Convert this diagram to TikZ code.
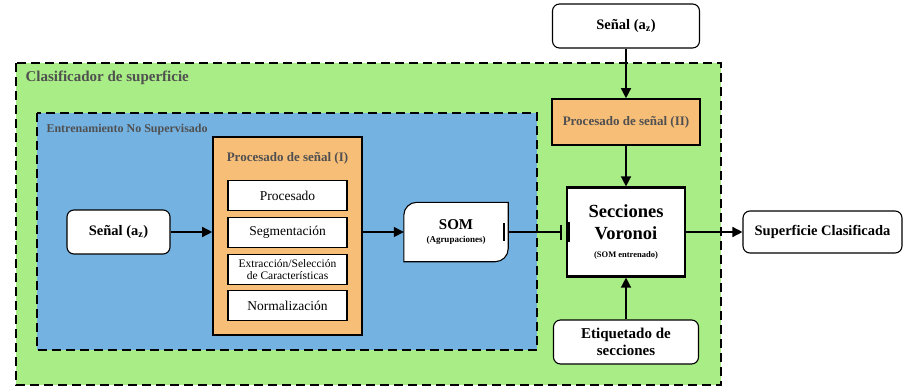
\documentclass[tikz,border=0pt]{standalone}
\usepackage{fontspec}
\setmainfont{Liberation Serif}
\usetikzlibrary{arrows.meta, positioning, calc}
\definecolor{outergreen}{RGB}{168,237,133}
\definecolor{innerblue}{RGB}{116,178,226}
\definecolor{procorange}{RGB}{247,190,120}
\definecolor{titlegray}{RGB}{80,80,80}

\begin{document}
\begin{tikzpicture}[x=1pt, y=-1pt,
  zone/.style={line width=1.6pt, dash pattern=on 9pt off 5pt},
  capbox/.style={draw, fill=white, rounded corners=7pt, line width=1.1pt,
                 font=\fontsize{14.5}{16}\selectfont\bfseries},
  stagebox/.style={draw, fill=white, line width=1.8pt,
                   minimum width=119pt, minimum height=30pt},
  procbox/.style={draw, fill=procorange, line width=1.6pt},
  flow/.style={line width=1.5pt, -{Triangle[length=10pt, width=10pt]}},
  zonetitle/.style={anchor=west, text=titlegray}
]
\useasboundingbox (0,0) rectangle (905,388);
% Zones
\filldraw[fill=outergreen, zone] (16,63) rectangle (721,385);
\node[zonetitle, font=\fontsize{15}{17}\selectfont\bfseries] (clasif) at (22,78) {Clasificador de superficie};
\filldraw[fill=innerblue, zone] (37,113) rectangle (537,350);
\node[zonetitle, font=\fontsize{12}{14}\selectfont\bfseries] (entren) at (43,130) {Entrenamiento No Supervisado};
% Signal input (training)
\node[capbox, minimum width=103pt, minimum height=44pt] (senalL) at (118.5,232) {Señal (a\textsubscript{z})};
% Procesado de senal (I)
\node[procbox, minimum width=149pt, minimum height=198pt] (proc1) at (287.5,236) {};
\node[text=titlegray, font=\fontsize{13}{15}\selectfont\bfseries] (proc1t) at (287.5,158) {Procesado de señal (I)};
\foreach \y/\nm/\txt in {195.5/pa/Procesado, 232.5/pb/Segmentación, 305.5/pd/Normalización} {
  \node[stagebox, font=\fontsize{13.5}{15}\selectfont] (\nm) at (287.5,\y) {\txt};
}
\node[stagebox, align=center, inner sep=1pt, font=\fontsize{11.5}{12}\selectfont] (pc) at (287.5,269.5) {Extracción/Selección\\de Características};
% SOM
\node[minimum width=104pt, minimum height=59pt] (som) at (456,232) {};
\filldraw[fill=white, line width=1.1pt] (som.south west) -- ([yshift=-13pt]som.north west)
  arc[start angle=180, end angle=90, radius=13pt] -- (som.north east)
  -- ([yshift=13pt]som.south east) arc[start angle=0, end angle=-90, radius=13pt] -- cycle;
\node[align=center, font=\bfseries] (somt) at (som) {\fontsize{15}{14}\selectfont SOM\\[1pt]\fontsize{9}{9}\selectfont (Agrupaciones)};
\draw[flow] (senalL.east) -- (senalL.east -| proc1.west);
\draw[flow] (proc1.east |- som.west) -- (som.west);
% Voronoi
\node[draw, fill=white, line width=2.2pt, minimum width=118pt, minimum height=89pt, align=center,
      font=\fontsize{18.5}{22}\selectfont\bfseries] (vor) at (626,232)
  {Secciones\\Voronoi\\[-4pt]\fontsize{8.5}{10}\selectfont (SOM entrenado)};
% SOM -> Voronoi
\draw[line width=1.3pt, -{Bar[width=15pt, line width=1.6pt]}] (som.east) -- ([xshift=-4pt]vor.west);
\draw[line width=2pt] ([xshift=-4pt, yshift=9pt]som.east) -- ([xshift=-4pt, yshift=-9pt]som.east);
\draw[line width=2pt] ([xshift=3pt, yshift=10pt]vor.west) -- ([xshift=3pt, yshift=-10pt]vor.west);
% Classifier path
\node[capbox, minimum width=147pt, minimum height=44pt] (senalT) at (626,26) {Señal (a\textsubscript{z})};
\node[procbox, minimum width=148pt, minimum height=46pt, text=titlegray, font=\fontsize{13}{15}\selectfont\bfseries] (proc2) at (626,122) {Procesado de señal (II)};
\node[capbox, minimum width=145pt, minimum height=44pt, align=center, font=\fontsize{15}{17.5}\selectfont\bfseries] (etiq) at (626,342) {Etiquetado de\\secciones};
\node[capbox, minimum width=159pt, minimum height=42pt] (superf) at (822.5,232) {Superficie Clasificada};
\draw[flow] (senalT) -- (proc2);
\draw[flow] (proc2) -- (vor);
\draw[flow] (etiq) -- (vor);
\draw[flow] (vor) -- (superf);
\end{tikzpicture}
\end{document}
